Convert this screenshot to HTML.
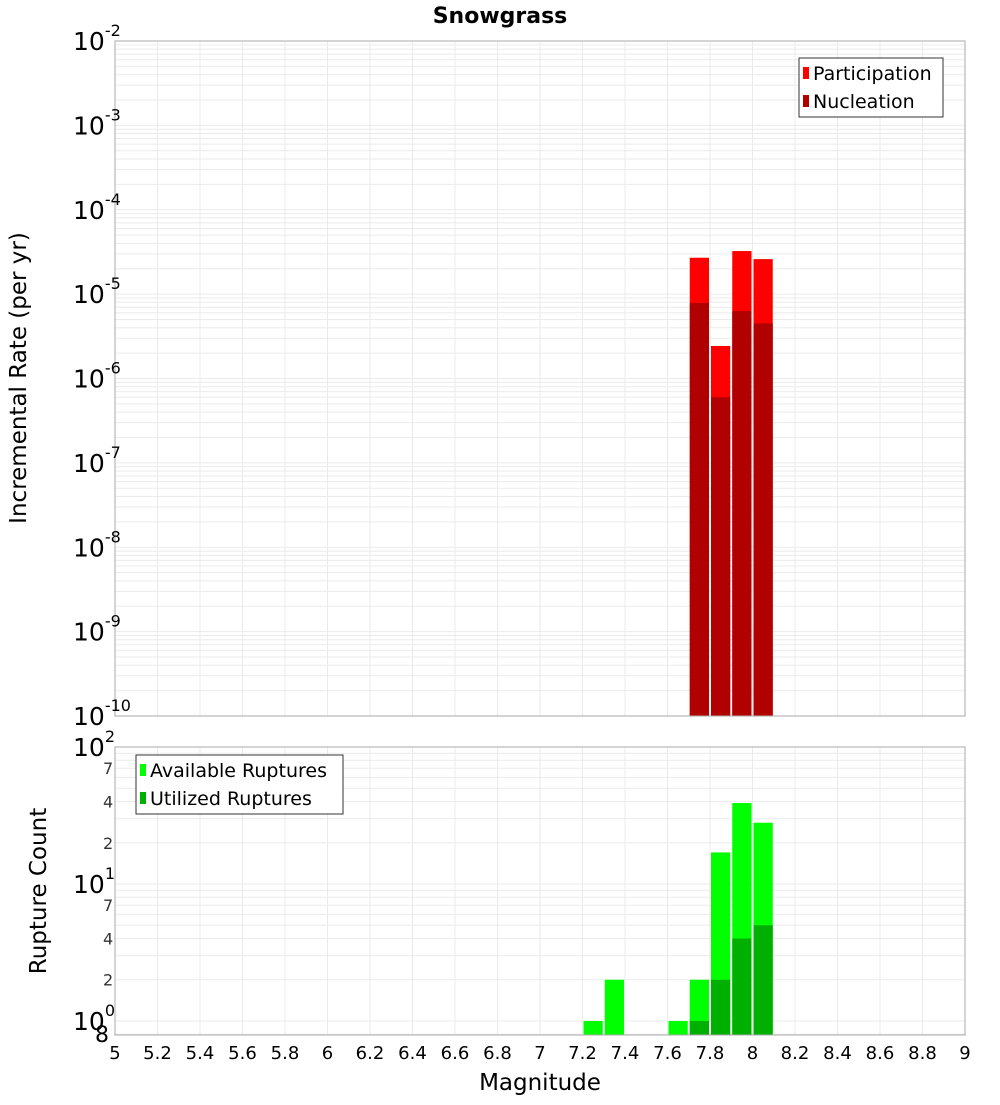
<!DOCTYPE html>
<html><head><meta charset="utf-8"><style>
body{margin:0;background:#fff;font-family:"Liberation Sans","DejaVu Sans",sans-serif}
svg text{font-family:"DejaVu Sans","Liberation Sans",sans-serif}
</style></head><body>
<svg id="c" width="1000" height="1100" xmlns="http://www.w3.org/2000/svg">
<text x="500" y="23" text-anchor="middle" font-size="22" font-weight="bold">Snowgrass</text>
<g id="topPanel"></g>
<g id="botPanel"></g>
<text transform="translate(26,378) rotate(-90)" text-anchor="middle" font-size="23">Incremental Rate (per yr)</text>
<text transform="translate(46,891) rotate(-90)" text-anchor="middle" font-size="23">Rupture Count</text>
<text x="540" y="1090" text-anchor="middle" font-size="23">Magnitude</text>
<g id="legends"></g>
</svg>
<script>
const mags=[7.75,7.85,7.95,8.05];
const participation=[2.7e-5,2.43e-6,3.24e-5,2.6e-5];
const nucleation=[7.85e-6,6.0e-7,6.3e-6,4.5e-6];
const countMags=[7.25,7.35,7.65,7.75,7.85,7.95,8.05];
const available=[1,2,1,2,17,39,28];
const utilized=[0,0,0,1,2,4,5];
const xTicks=[5,5.2,5.4,5.6,5.8,6,6.2,6.4,6.6,6.8,7,7.2,7.4,7.6,7.8,8,8.2,8.4,8.6,8.8,9];
const rateExps=[-2,-3,-4,-5,-6,-7,-8,-9,-10];
const countMinor=[2,4,7,20,40,70];

const NS="http://www.w3.org/2000/svg";
const svgEl=document.getElementById('c');
function mk(parent,tag,a){const e=document.createElementNS(NS,tag);for(const k in a)e.setAttribute(k,a[k]);parent.appendChild(e);return e;}
const X0=115,X1=965;
const xs=m=>X0+(m-5)/4*(X1-X0);
const T0=41,T1=716;
const yTop=v=>T0+(-2-Math.log10(v))/8*(T1-T0);
const B0=747,B1=1035;
const yBot=v=>B0+(2-Math.log10(v))*(B1-B0)/Math.log10(100/0.79);

const topG=document.getElementById('topPanel'), botG=document.getElementById('botPanel');
for(let e=-10;e<-2;e++)for(let k=1;k<10;k++){const y=yTop(k*Math.pow(10,e));
 const l=mk(topG,'line',{x1:X0,x2:X1,y1:y,y2:y,stroke:'#ebebeb','stroke-width':1});
 
 }
for(let d=0;d<2;d++)for(let k=1;k<10;k++){const v=k*Math.pow(10,d);const y=yBot(v);
 const l=mk(botG,'line',{x1:X0,x2:X1,y1:y,y2:y,stroke:'#ebebeb','stroke-width':1});
 
 }
{const y=yBot(0.8);const l=mk(botG,'line',{x1:X0,x2:X1,y1:y,y2:y,stroke:'#ebebeb'});
 
 }
xTicks.forEach(t=>{const xx=xs(t);
 [[topG,T0,T1],[botG,B0,B1]].forEach(([g,a,b])=>{const l=mk(g,'line',{x1:xx,x2:xx,y1:a,y2:b,stroke:'#ebebeb'});
 
 });
 const tx=mk(svgEl,'text',{x:xx,y:1059,'text-anchor':'middle','font-size':18});tx.textContent=String(t);
 
 
});
mags.forEach((m,i)=>{const x1=xs(m-0.05)+1,w=xs(m+0.05)-xs(m-0.05)-2;
 const p=mk(topG,'rect',{x:x1,y:yTop(participation[i]),width:w,height:T1-yTop(participation[i]),fill:'#ff0000'});
 
 
 const n=mk(topG,'rect',{x:x1,y:yTop(nucleation[i]),width:w,height:T1-yTop(nucleation[i]),fill:'#b00000'});
 
 
});
countMags.forEach((m,i)=>{const x1=xs(m-0.05)+1,w=xs(m+0.05)-xs(m-0.05)-2;
 const a=mk(botG,'rect',{x:x1,y:yBot(available[i]),width:w,height:B1-yBot(available[i]),fill:'#00ff00'});
 
 
 if(utilized[i]>0){const u=mk(botG,'rect',{x:x1,y:yBot(utilized[i]),width:w,height:B1-yBot(utilized[i]),fill:'#00b000'});
 
 }
});
mk(topG,'rect',{x:X0,y:T0,width:X1-X0,height:T1-T0,fill:'none',stroke:'#aaa'});
mk(botG,'rect',{x:X0,y:B0,width:X1-X0,height:B1-B0,fill:'none',stroke:'#aaa'});
function pow(y,exp,name){const t=mk(svgEl,'text',{x:73,y:y+9,'font-size':25});t.textContent='10';
 const s=mk(t,'tspan',{dy:-14,'font-size':16});s.textContent=exp;
 
 }
rateExps.forEach(e=>pow(yTop(Math.pow(10,e)),String(e),'y-tick-label-rate'));
[2,1,0].forEach(e=>pow(yBot(Math.pow(10,e)),String(e),'y-tick-label-count'));
countMinor.forEach(v=>{const t=mk(svgEl,'text',{x:103,y:yBot(v)+6,'font-size':16,fill:'#333'});t.textContent=String(v).charAt(0);
 
 });
{const t=mk(svgEl,'text',{x:95,y:1042,'font-size':22});t.textContent='8';
 
 }
// legends on top
const lg=document.getElementById('legends');
lg.innerHTML='<g><rect x="799" y="58" width="144" height="59" fill="#fff" stroke="#333"/><rect x="803" y="67" width="6" height="12" fill="#ff0000"/><text x="813" y="80" font-size="19">Participation</text><rect x="803" y="95" width="6" height="12" fill="#b00000"/><text x="813" y="108" font-size="19">Nucleation</text></g><g><rect x="136" y="755" width="207" height="59" fill="#fff" stroke="#333"/><rect x="140" y="764" width="6" height="12" fill="#00ff00"/><text x="150" y="777" font-size="19">Available Ruptures</text><rect x="140" y="792" width="6" height="12" fill="#00b000"/><text x="150" y="805" font-size="19">Utilized Ruptures</text></g>';
svgEl.appendChild(lg);
</script>
</body></html>
